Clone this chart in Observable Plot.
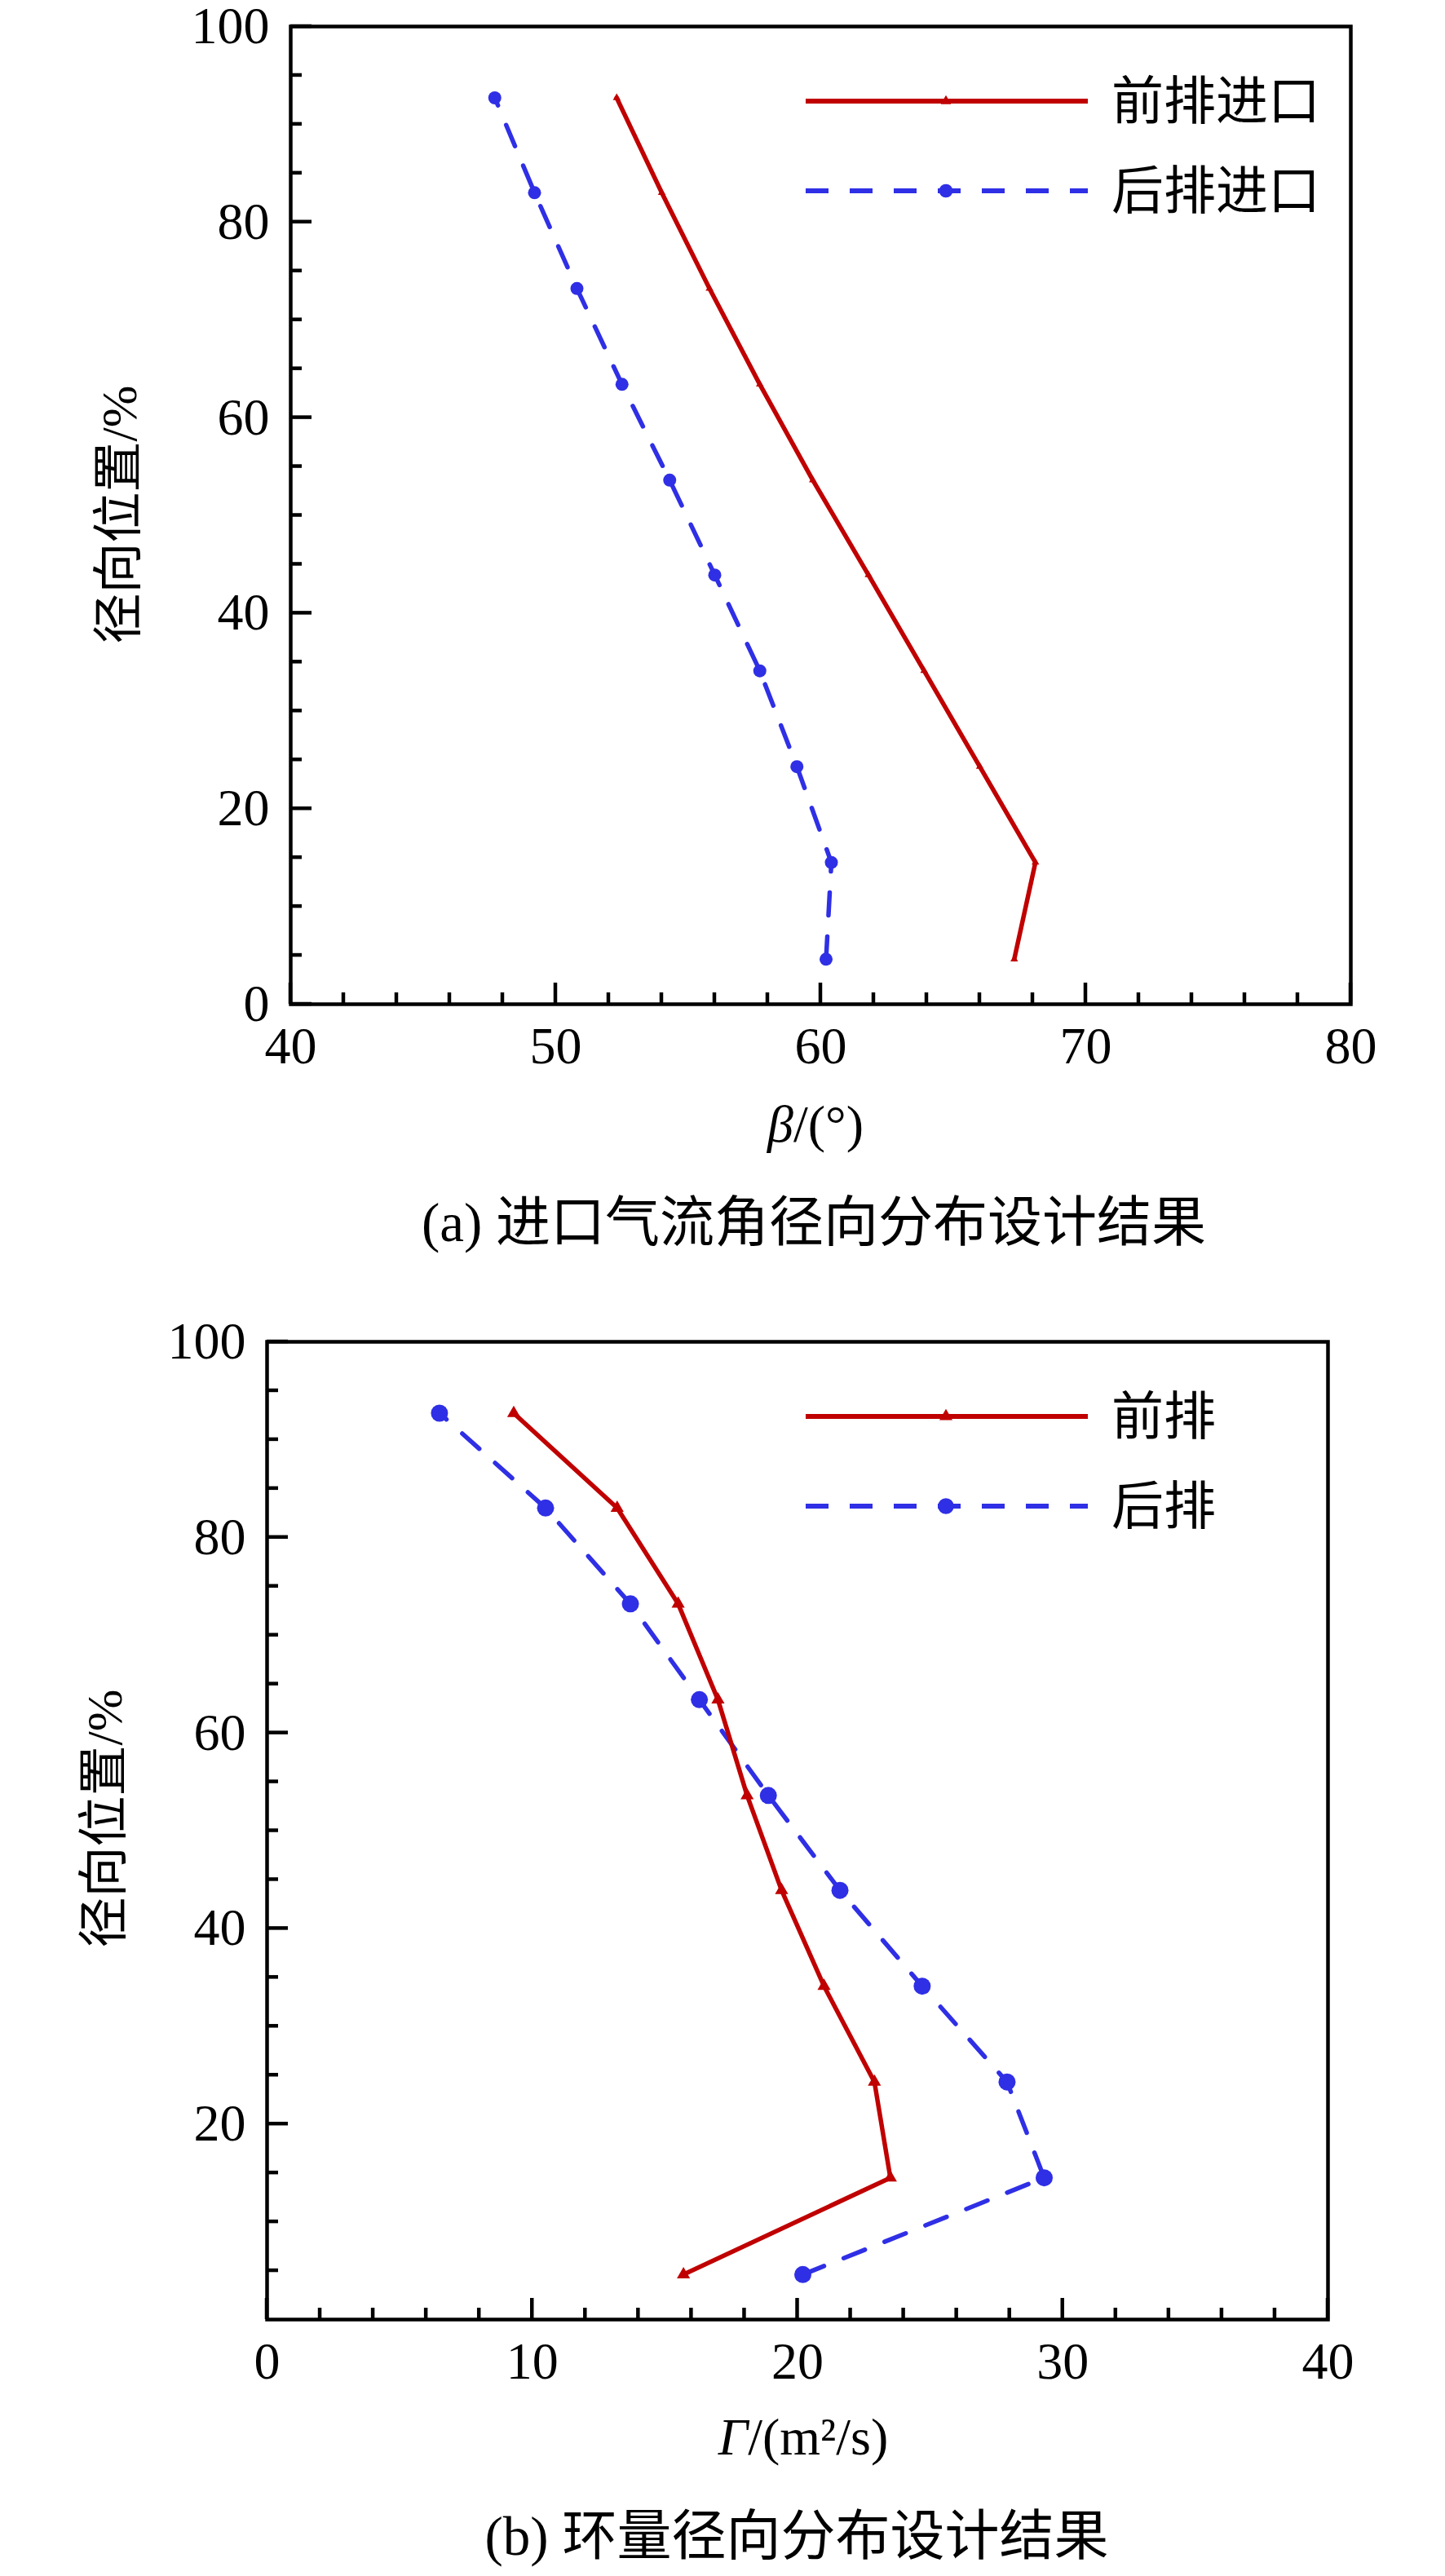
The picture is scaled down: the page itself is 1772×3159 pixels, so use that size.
<!DOCTYPE html>
<html><head><meta charset="utf-8">
<script src="https://cdn.jsdelivr.net/npm/d3@7"></script>
<script src="https://cdn.jsdelivr.net/npm/@observablehq/plot@0.6"></script>
<style>
body{margin:0;background:#fff;}
#wrap{position:relative;width:1772px;height:3159px;font-family:"Liberation Serif","Noto Sans CJK SC",serif;color:#000;}
.panel{position:absolute;left:0;}
.caption{position:absolute;font-size:67px;line-height:1;white-space:nowrap;transform:translate(-50%,-50%);}
</style></head><body><div id="wrap"></div>
<script>
// ---- data ----
const radialPos = [4.6, 14.5, 24.3, 34.1, 43.9, 53.6, 63.4, 73.2, 83.0, 92.7];
const betaFront = [67.3, 68.1, 66.0, 63.9, 61.8, 59.7, 57.7, 55.8, 54.0, 52.3];
const betaRear  = [60.2, 60.4, 59.1, 57.7, 56.0, 54.3, 52.5, 50.8, 49.2, 47.7];
const gammaFront = [15.7, 23.5, 22.9, 21.0, 19.4, 18.1, 17.0, 15.5, 13.2, 9.3];
const gammaRear  = [20.2, 29.3, 27.9, 24.7, 21.6, 18.9, 16.3, 13.7, 10.5, 6.5];

const xTicksA = [40, 50, 60, 70, 80];
const xTicksB = [0, 10, 20, 30, 40];
const yTicksA = [0, 20, 40, 60, 80, 100];
const yTicksB = [20, 40, 60, 80, 100];
const legendA = ["前排进口", "后排进口"];
const legendB = ["前排", "后排"];
const yLabel = "径向位置/%";
const captionA = "(a) 进口气流角径向分布设计结果";
const captionB = "(b) 环量径向分布设计结果";

const RED = "#c00000";
const BLUE = "#2f2fe6";
const FONT = '"Liberation Serif","Noto Sans CJK SC",serif';

function d3range(a, b, s) { return d3.range(a, b + 1e-9, s); }

function decorations(opts) {
  return (index, scales, values, dims) => {
    const {x, y} = scales;
    const g = d3.create("svg:g");
    const bottom = dims.height - dims.marginBottom;
    const left = dims.marginLeft;
    const top = dims.marginTop;
    const tk = g.append("g").attr("stroke", "black").attr("stroke-width", 4.5);
    opts.xMinor.forEach(v => tk.append("line").attr("x1", x(v)).attr("x2", x(v)).attr("y1", bottom).attr("y2", bottom - 14));
    opts.xMajor.forEach(v => tk.append("line").attr("x1", x(v)).attr("x2", x(v)).attr("y1", bottom).attr("y2", bottom - 26));
    opts.yMinor.forEach(v => tk.append("line").attr("y1", y(v)).attr("y2", y(v)).attr("x1", left).attr("x2", left + 14));
    opts.yMajor.forEach(v => tk.append("line").attr("y1", y(v)).attr("y2", y(v)).attr("x1", left).attr("x2", left + 26));
    // legend
    const rows = [
      {dy: 92, color: RED, dash: null, sym: d3.symbolTriangle, size: opts.triSize, label: opts.legend[0]},
      {dy: 202, color: BLUE, dash: "28,26", sym: d3.symbolCircle, size: opts.cirSize, label: opts.legend[1]}
    ];
    rows.forEach(r => {
      const yy = top + r.dy;
      const ln = g.append("line").attr("x1", 988).attr("x2", 1334).attr("y1", yy).attr("y2", yy)
        .attr("stroke", r.color).attr("stroke-width", 6);
      if (r.dash) ln.attr("stroke-dasharray", r.dash);
      g.append("path").attr("d", d3.symbol(r.sym, r.size)()).attr("transform", `translate(1160,${yy})`).attr("fill", r.color);
      g.append("text").attr("x", 1363).attr("y", yy).attr("dominant-baseline", "central").attr("text-anchor", "start")
        .attr("font-size", 64).attr("font-family", FONT).attr("fill", "black").text(r.label);
    });
    // y label
    g.append("text").attr("transform", `translate(${opts.yLabelX},${opts.yLabelY}) rotate(-90)`)
      .attr("text-anchor", "middle").attr("dominant-baseline", "central")
      .attr("font-size", 62).attr("font-family", FONT).attr("fill", "black").text(yLabel);
    // x label
    const xl = g.append("text").attr("x", opts.xLabelX).attr("y", opts.xLabelBase)
      .attr("text-anchor", "middle").attr("font-size", 64).attr("font-family", FONT).attr("fill", "black");
    xl.append("tspan").attr("font-style", "italic").text(opts.xLabel[0]);
    xl.append("tspan").text(opts.xLabel[1]);
    return g.node();
  };
}

function panel(cfg) {
  const data = radialPos.map((r, i) => ({r, front: cfg.front[i], rear: cfg.rear[i]}));
  return Plot.plot({
    width: 1772, height: 1440,
    marginTop: cfg.mt, marginBottom: cfg.mb, marginLeft: cfg.ml, marginRight: cfg.mr,
    style: {fontFamily: FONT, background: "transparent", color: "black", overflow: "visible"},
    x: {domain: cfg.xDomain, label: null},
    y: {domain: [0, 100], label: null},
    marks: [
      Plot.axisX(cfg.xTicks, {tickSize: 0, tickPadding: 27, fontSize: 64, label: null, tickFormat: d => String(d)}),
      Plot.axisY(cfg.yTicks, {tickSize: 0, tickPadding: 26, fontSize: 64, label: null, tickFormat: d => String(d)}),
      Plot.line(data, {x: "rear", y: "r", stroke: BLUE, strokeWidth: 5.5, strokeDasharray: "28,26"}),
      Plot.dot(data, {x: "rear", y: "r", fill: BLUE, r: cfg.cirR}),
      Plot.line(data, {x: "front", y: "r", stroke: RED, strokeWidth: 5.5}),
      Plot.dot(data, {x: "front", y: "r", symbol: "triangle", fill: RED, r: cfg.triR}),
      Plot.frame({stroke: "black", strokeWidth: 4.5}),
      decorations(cfg.deco)
    ]
  });
}

const wrap = document.getElementById("wrap");

const svgA = panel({
  front: betaFront, rear: betaRear, xDomain: [40, 80], xTicks: xTicksA, yTicks: yTicksA,
  mt: 32, mb: 209, ml: 356, mr: 116, cirR: 8, triR: 3.5,
  deco: {xMajor: xTicksA, xMinor: d3range(42, 78, 2).filter(v => v % 10), yMajor: yTicksA, yMinor: d3range(5, 95, 5).filter(v => v % 20),
    legend: legendA, triSize: 70, cirSize: 220, yLabelX: 146, yLabelY: 631, xLabelX: 1000, xLabelBase: 1400, xLabel: ["β", "/(°)"]}
});
svgA.classList.add("panel"); svgA.style.top = "0px";
wrap.appendChild(svgA);

const svgB = panel({
  front: gammaFront, rear: gammaRear, xDomain: [0, 40], xTicks: xTicksB, yTicks: yTicksB,
  mt: 45, mb: 196, ml: 327, mr: 144, cirR: 10.5, triR: 6,
  deco: {xMajor: xTicksB, xMinor: d3range(2, 38, 2).filter(v => v % 10), yMajor: yTicksB, yMinor: d3range(5, 95, 5).filter(v => v % 20),
    legend: legendB, triSize: 110, cirSize: 300, yLabelX: 128, yLabelY: 630, xLabelX: 985, xLabelBase: 1410, xLabel: ["Γ", "/(m²/s)"]}
});
svgB.classList.add("panel"); svgB.style.top = "1600px";
wrap.appendChild(svgB);

[[captionA, 998, 1499], [captionB, 977, 3110]].forEach(([t, cx, cy]) => {
  const d = document.createElement("div");
  d.className = "caption"; d.textContent = t;
  d.style.left = cx + "px"; d.style.top = cy + "px";
  wrap.appendChild(d);
});
</script>
</body></html>
